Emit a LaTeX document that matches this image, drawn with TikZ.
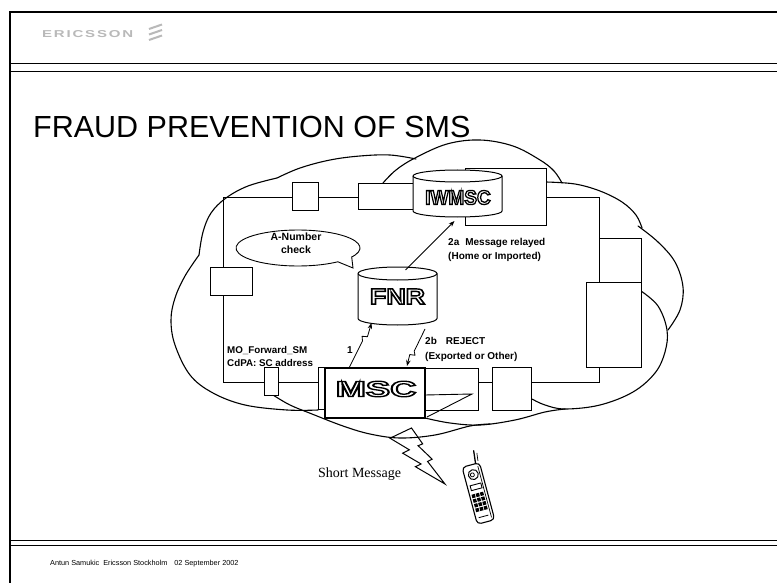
\documentclass[tikz,border=0pt]{standalone}
\usepackage{fontspec}
\setmainfont{Liberation Sans}
\newfontfamily\serifface{Liberation Serif}
\newfontfamily\logoface[LetterSpace=12]{Liberation Sans}
\usetikzlibrary{calc,arrows.meta}

% letters drawn as outlines only (text render mode 1 = stroke)
\newcommand\hollowtext[2][1.5]{%
  \special{pdf:literal direct 1 Tr #1 w}#2\special{pdf:literal direct 0 Tr}}

% network element box given by its corners
\newcommand\unitbox[5]{%
  \node[unit, minimum width={#4-#2}, minimum height={#5-#3}]
    (#1) at ({(#2+#4)/2},{(#3+#5)/2}) {};}

% signalling arrow with a small lightning kink before the head
\newcommand\sigarrow[2]{%
  \draw[arr] (#1) -- ($(#1)!0.60!(#2)$) -- ($(#1)!0.68!(#2)!2.5pt!90:(#2)$)
    -- ($(#1)!0.72!(#2)!-2.5pt!90:(#2)$) -- (#2);}

\tikzset{
  frameline/.style={line width=1.3pt},
  rule/.style={line width=0.9pt},
  cloudline/.style={line width=1.1pt, line join=round, line cap=round},
  ring/.style={line width=0.8pt},
  unit/.style={draw, fill=white, line width=0.9pt, inner sep=0pt, outer sep=0pt},
  drumline/.style={line width=1pt},
  labeltext/.style={font=\fontsize{10}{13.5}\selectfont\bfseries, align=left, inner sep=0pt},
  arr/.style={line width=0.8pt, line join=round, -{Stealth[length=6pt,width=4.5pt]}},
  bigname/.style={inner sep=0pt, font=\fontsize{22}{24}\selectfont\bfseries},
}

\begin{document}
\begin{tikzpicture}[x=1pt,y=-1pt]
\useasboundingbox (0,0) rectangle (777,583);
\fill[white] (0,0) rectangle (777,583);

% page frame and rules
\draw[frameline] (10,583) -- (10,12) -- (777,12);
\draw[rule] (10,63) -- (777,63);
\draw[rule] (10,71) -- (777,71);
\draw[rule] (10,540) -- (777,540);
\draw[rule] (10,545) -- (777,545);

% header brand
\node[anchor=base west, inner sep=0pt, text=gray!55, font=\logoface\bfseries\fontsize{10}{12}\selectfont]
  (brand) at (42,37.5) {\scalebox{1.5}[1]{ERICSSON}};
\draw[gray!55, line width=2pt] (149,29) -- (162,24.5);
\draw[gray!55, line width=2pt] (149,34.5) -- (162,30);
\draw[gray!55, line width=2pt] (149,40) -- (162,35.5);

% title
\node[anchor=base west, inner sep=0pt, font=\fontsize{30.5}{33}\selectfont]
  (title) at (33,138) {FRAUD PREVENTION OF SMS};

% cloud lobes
\draw[cloudline] plot[smooth, tension=0.6] coordinates {(199,255) (203,232) (211,213) (226,198) (248,186) (277,178)};
\draw[cloudline] plot[smooth, tension=0.6] coordinates {(277,178) (300,168) (330,160) (360,156) (390,155) (416,159)};
\draw[cloudline] plot[smooth, tension=0.6] coordinates {(383,183) (396,170) (415,158) (447,144) (480,140) (513,146) (540,160) (554,171) (562,183)};
\draw[cloudline] plot[smooth, tension=0.6] coordinates {(546,182) (575,184) (600,191) (622,202) (636,215) (642,228)};
\draw[cloudline] plot[smooth, tension=0.6] coordinates {(638,226) (658,242) (675,262) (683,287) (680,310) (668,330)};
\draw[cloudline] plot[smooth, tension=0.6] coordinates {(641,291) (658,306) (667,330) (665,352) (655,373) (633,392) (600,405) (565,409) (545,405) (532,399)};
\draw[cloudline] plot[smooth, tension=0.6] coordinates {(425,418) (450,423) (480,425) (515,420) (545,412) (565,409)};
\draw[cloudline] plot[smooth, tension=0.6] coordinates {(273,395) (290,405) (312,414) (343,426) (370,434) (400,438) (435,435) (470,426) (490,424)};
\draw[cloudline] plot[smooth, tension=0.6] coordinates {(199,255) (185,276) (175,298) (171,320) (175,345) (190,375) (213,393) (245,405) (287,410) (318,410)};

% transit ring
\coordinate (ringNW) at (223,197);
\coordinate (ringSE) at (599,382);
\draw[ring] (ringNW) rectangle (ringSE);

% network elements on the ring
\unitbox{b1}{292}{182}{318}{210}
\unitbox{b2}{358}{183}{420}{209}
\unitbox{bL}{210}{267}{252}{295}
\unitbox{bS}{264}{367}{278}{395}
\unitbox{bN}{318}{367}{325}{409}
\unitbox{bR}{425}{368}{478}{410}
\unitbox{bR1}{492}{367}{531}{410}
\unitbox{bUR}{599}{238}{641}{282}
\unitbox{bTB}{586}{282}{641}{367}
\unitbox{bIW}{465}{168}{546}{225}

% IWMSC drum
\node[inner sep=0pt, outer sep=0pt, minimum width=89, minimum height=47] (iwmsc) at (457.5,193.5) {};
\draw[drumline, fill=white] (413,176) -- (413,211)
  arc[start angle=180, end angle=0, x radius=44.5, y radius=6] -- (502,176)
  arc[start angle=0, end angle=-180, x radius=44.5, y radius=6] -- cycle;
\draw[drumline] (413,176) arc[start angle=180, end angle=0, x radius=44.5, y radius=6];
\node[bigname, font=\fontsize{20}{22}\selectfont\bfseries] (iwmsclabel) at (458,197.5)
  {\scalebox{0.95}[1]{\hollowtext[1.3]{IWMSC}}};

% FNR drum
\node[inner sep=0pt, outer sep=0pt, minimum width=79, minimum height=58] (fnr) at (397.5,296) {};
\draw[drumline, fill=white] (358,273.5) -- (358,318.5)
  arc[start angle=180, end angle=0, x radius=39.5, y radius=6.5] -- (437,273.5)
  arc[start angle=0, end angle=-180, x radius=39.5, y radius=6.5] -- cycle;
\draw[drumline] (358,273.5) arc[start angle=180, end angle=0, x radius=39.5, y radius=6.5];
\node[bigname] (fnrlabel) at (397.5,296.5) {\scalebox{1.22}[1]{\hollowtext[1.4]{FNR}}};

% MSC
\node[unit, line width=1.1pt, minimum width=100, minimum height=50] (msc) at (375,393) {};
\node[bigname] (msclabel) at (376,389) {\scalebox{1.65}[1]{\hollowtext[1.3]{MSC}}};
\draw[line width=0.9pt] (msc.east |- 0,395) -- (472,394) -- (427,417);

% signalling labels
\node[labeltext, anchor=north west] (lab2a) at (448,238.5)
  {2a\hspace{6pt}Message relayed\\(Home or Imported)};
\node[labeltext, anchor=north west, font=\fontsize{10}{14.5}\selectfont\bfseries] (lab2b) at (425,337.5)
  {2b\hspace{9pt}REJECT\\(Exported or Other)};
\node[labeltext, anchor=north west, font=\fontsize{9.8}{13}\selectfont\bfseries] (labmo) at (227,346.5)
  {MO\_Forward\_SM\\CdPA: SC address};
\node[labeltext] (lab1) at (350,350) {1};

% signalling arrows
\coordinate (a1s) at ($(msc.north west)+(24,0)$);
\coordinate (a1e) at ($(fnr.south)+(-26,-2)$);
\coordinate (a2s) at ($(fnr.north)+(8,3)$);
\coordinate (a2e) at ($(iwmsc.south)+(-3,4)$);
\coordinate (a3s) at ($(fnr.south east)+(-12,4)$);
\coordinate (a3e) at ($(msc.north)+(32,-2)$);
\sigarrow{a1s}{a1e}
\draw[arr] (a2s) -- (a2e);
\sigarrow{a3s}{a3e}

% A-number check bubble
\draw[unit] (337.85,261.79) arc[start angle=50, end angle=390, x radius=62, y radius=18]
  -- (353,268) -- cycle;
\node[inner sep=0pt, align=center, font=\fontsize{10.5}{12.5}\selectfont\bfseries] (anum) at (296,243)
  {A-Number\\check};

% radio link
\draw[line width=1pt, line join=miter] (411.5,428) -- (390,438.2) -- (409.3,449.8) -- (402.7,453.2)
  -- (421.1,464) -- (415.4,466.7) -- (445,484) -- (427.6,461.5) -- (432.2,459.2)
  -- (418.1,445.7) -- (422.7,443.9) -- cycle;
\node[anchor=base west, inner sep=0pt, font=\serifface\fontsize{14}{16}\selectfont]
  (smlabel) at (318,477) {Short Message};

% handset
\begin{scope}[shift={(478,492)}, rotate=15]
  \draw[line width=1.3pt, line cap=round] (5,-28) -- (6.5,-41);
  \draw[line width=0.7pt] (8,-30) -- (9,-38);
  \draw[line width=1.1pt, fill=white, rounded corners=4] (-9,-28) rectangle (9,31);
  \draw[line width=0.7pt] (6.5,-25) -- (6.5,28);
  \draw[line width=1pt] (0,-18) circle[radius=5];
  \draw[line width=0.8pt] (-1,-18) circle[radius=2];
  \draw[line width=0.9pt] (-6,-8) rectangle (5,-3);
  \foreach \r in {0,...,3}
    \foreach \c in {0,1,2}
      \fill ({-7+\c*4.3},{1+\r*4.8}) rectangle ++(3.4,3.6);
  \draw[line width=0.8pt] (-6,25) -- (4,25);
\end{scope}

% footer
\node[anchor=base west, inner sep=0pt, font=\fontsize{7.3}{9}\selectfont] (footer) at (50,565)
  {Antun Samukic\hspace{4pt}Ericsson Stockholm\hspace{7pt}02 September 2002};
\end{tikzpicture}
\end{document}
